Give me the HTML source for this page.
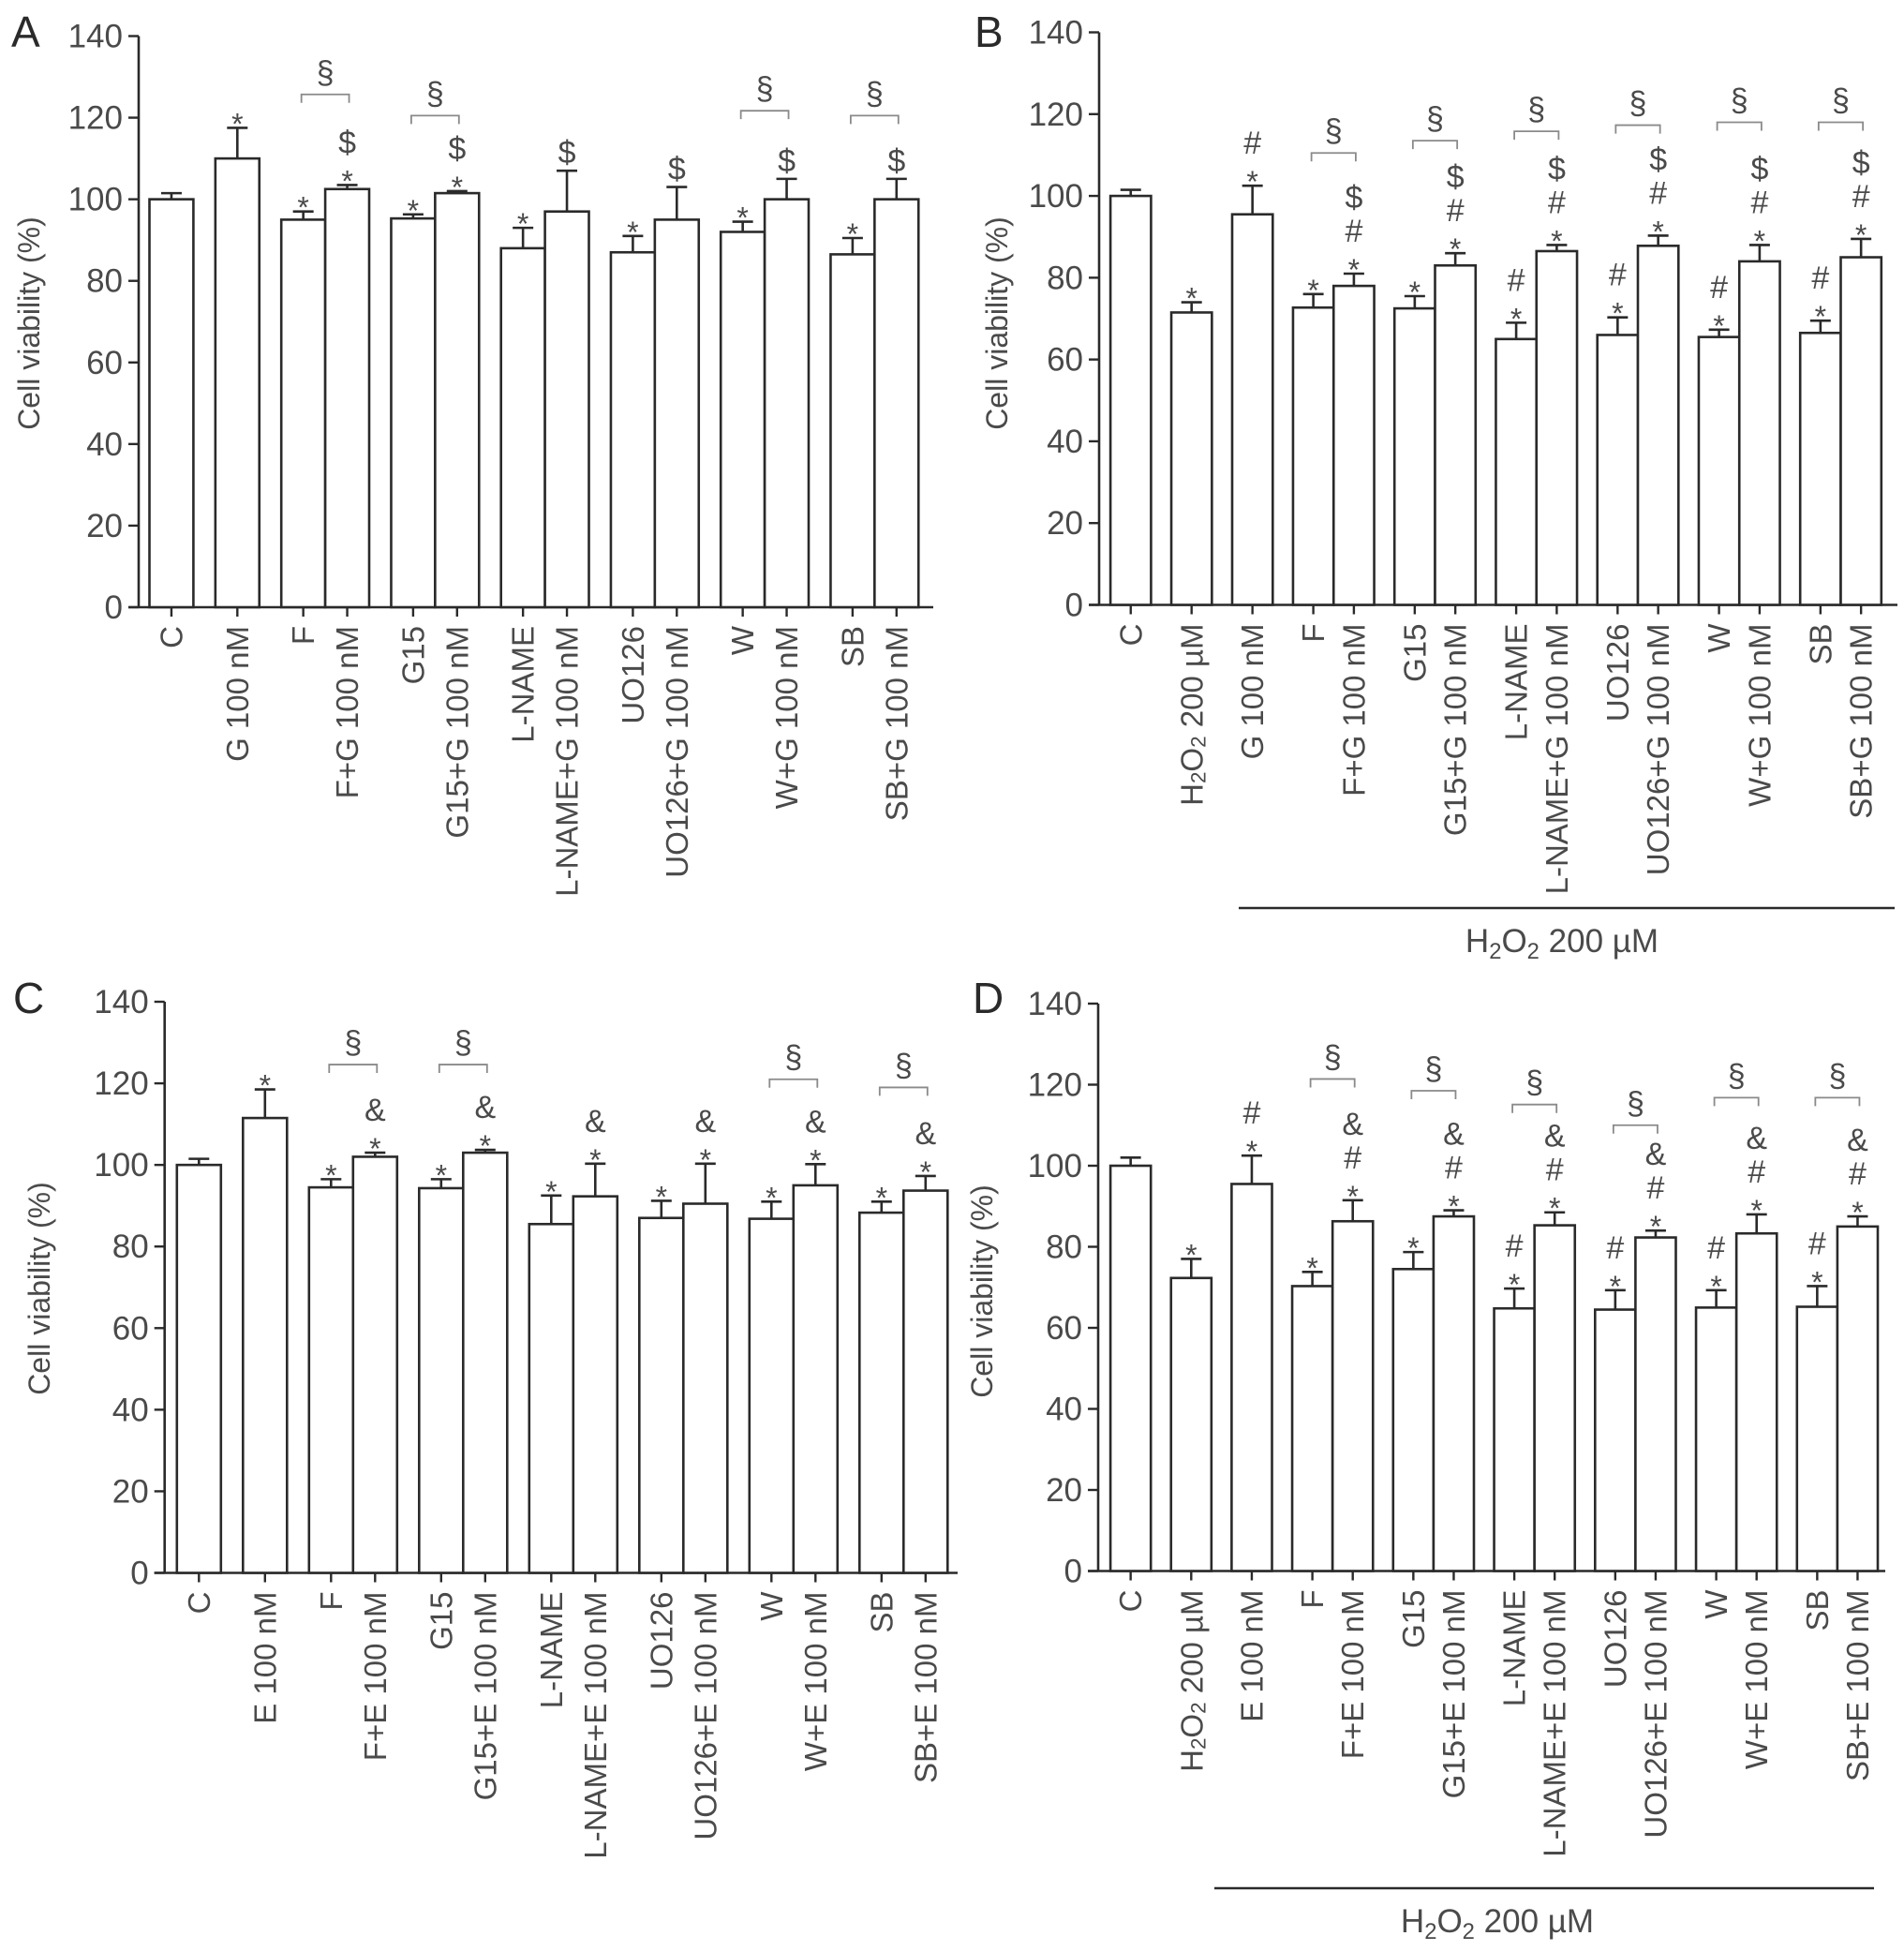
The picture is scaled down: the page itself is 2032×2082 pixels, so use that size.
<!DOCTYPE html>
<html><head><meta charset="utf-8"><style>
html,body{margin:0;padding:0;background:#fff;}
svg{display:block;font-family:"Liberation Sans",Arial,sans-serif;}
</style></head><body>
<svg id="fig" width="2032" height="2082" viewBox="0 0 2032 2082" xmlns="http://www.w3.org/2000/svg"></svg>
<script>
// ---------- DATA ----------
const catsA = ["C","G 100 nM","F","F+G 100 nM","G15","G15+G 100 nM","L-NAME","L-NAME+G 100 nM","UO126","UO126+G 100 nM","W","W+G 100 nM","SB","SB+G 100 nM"];
const valsA = [100,110,95,102.5,95.3,101.5,88,97,87,95,92,100,86.5,100];
const errA  = [101.5,117.5,97,103.5,96.3,102,93,107,91,103,94.5,105,90.5,105];
const annA  = ["","*","*","*$","*","*$","*","$","*","$","*","$","*","$"];
const brkA  = [[2,125.7],[4,120.5],[10,121.7],[12,120.5]];

const catsB = ["C","H2O2 200 µM","G 100 nM","F","F+G 100 nM","G15","G15+G 100 nM","L-NAME","L-NAME+G 100 nM","UO126","UO126+G 100 nM","W","W+G 100 nM","SB","SB+G 100 nM"];
const valsB = [100,71.5,95.5,72.7,78,72.5,83,65,86.5,66,87.8,65.5,84,66.5,85];
const errB  = [101.5,74,102.5,76,81,75.5,86,69,88,70.3,90.3,67.3,88,69.5,89.5];
const annB  = ["","*","*#","*","*#$","*","*#$","*#","*#$","*#","*#$","*#","*#$","*#","*#$"];
const brkB  = [[3,110.5],[5,113.5],[7,115.8],[9,117.3],[11,118],[13,118]];

const catsC = ["C","E 100 nM","F","F+E 100 nM","G15","G15+E 100 nM","L-NAME","L-NAME+E 100 nM","UO126","UO126+E 100 nM","W","W+E 100 nM","SB","SB+E 100 nM"];
const valsC = [100,111.5,94.5,102,94.3,103,85.5,92.3,87,90.5,86.8,95,88.3,93.7];
const errC  = [101.5,118.5,96.5,103,96.5,103.7,92.5,100.3,91.2,100.3,91,100.2,91,97.3];
const annC  = ["","*","*","*&","*","*&","*","*&","*","*&","*","*&","*","*&"];
const brkC  = [[2,124.6],[4,124.6],[10,121],[12,119]];

const catsD = ["C","H2O2 200 µM","E 100 nM","F","F+E 100 nM","G15","G15+E 100 nM","L-NAME","L-NAME+E 100 nM","UO126","UO126+E 100 nM","W","W+E 100 nM","SB","SB+E 100 nM"];
const valsD = [100,72.3,95.5,70.3,86.3,74.5,87.5,64.8,85.3,64.5,82.3,65,83.3,65.2,85];
const errD  = [102,77,102.5,73.8,91.5,78.7,89,69.7,88.5,69.3,84,69.3,88,70.3,87.5];
const annD  = ["","*","*#","*","*#&","*","*#&","*#","*#&","*#","*#&","*#","*#&","*#","*#&"];
const brkD  = [[3,121.4],[5,118.5],[7,115.1],[9,110],[11,116.8],[13,116.8]];

const yTicks = [0,20,40,60,80,100,120,140];

// ---------- DRAW ----------
const NS="http://www.w3.org/2000/svg";
const svg=document.getElementById('fig');
function mk(tag,attrs,parent){const e=document.createElementNS(NS,tag);for(const k in attrs)e.setAttribute(k,attrs[k]);(parent||svg).appendChild(e);return e;}
const INK="#2a2a2a", TXT="#4a4a4a";
const FS=35, LFS=33;

function slotPositions(n){
  const pos=[]; let p=0;
  const singles = n===14?2:3;
  for(let i=0;i<n;i++){
    if(i<singles){pos.push(p);p+=1.5;}
    else{const k=(i-singles)%2; pos.push(p); p+= k===0?1:1.5;}
  }
  return pos;
}

function h2o2(t,fs){
  const a=mk('tspan',{},t);a.textContent='H';
  const b=mk('tspan',{'font-size':fs*0.68,dy:7},t);b.textContent='2';
  const d=mk('tspan',{dy:-7},t);d.textContent='O';
  const e=mk('tspan',{'font-size':fs*0.68,dy:7},t);e.textContent='2';
  const f=mk('tspan',{dy:-7},t);f.textContent=' 200 µM';
}

function panel(cfg){
  const g=mk('g',{});
  
  
  const y=v=>cfg.y0-(v/140)*(cfg.y0-cfg.y140);
  const pos=slotPositions(cfg.cats.length);
  const xL=i=>cfg.left+pos[i]*cfg.u;
  const xc=i=>xL(i)+cfg.u/2;
  const L=mk('text',{x:cfg.lx,y:cfg.ly,'font-size':46,fill:INK},g);L.textContent=cfg.letter;
  
  
  const ax=mk('line',{x1:cfg.ax,y1:cfg.y140,x2:cfg.ax,y2:cfg.y0+1,stroke:INK,'stroke-width':2.6},g);
  
  
  const xa=mk('line',{x1:cfg.ax-11,y1:cfg.y0,x2:cfg.axEnd,y2:cfg.y0,stroke:INK,'stroke-width':2.6},g);
  
  
  yTicks.forEach(t=>{
    mk('line',{x1:cfg.ax-11,y1:y(t),x2:cfg.ax,y2:y(t),stroke:INK,'stroke-width':2.4},g);
    const tx=mk('text',{x:cfg.ax-17,y:y(t)+12,'font-size':FS,fill:TXT,'text-anchor':'end'},g);
    tx.textContent=t;
    
    
  });
  const yt=mk('text',{x:0,y:0,'font-size':32,fill:TXT,'text-anchor':'middle',transform:`translate(${cfg.tx},${cfg.ty}) rotate(-90)`},g);
  yt.textContent='Cell viability (%)';
  
  
  cfg.cats.forEach((c,i)=>{
    const top=y(cfg.vals[i]), et=y(cfg.err[i]);
    mk('line',{x1:xc(i),y1:top,x2:xc(i),y2:et,stroke:INK,'stroke-width':2.6},g);
    mk('line',{x1:xc(i)-11,y1:et,x2:xc(i)+11,y2:et,stroke:INK,'stroke-width':2.6},g);
    const r=mk('rect',{x:xL(i),y:top,width:cfg.u,height:cfg.y0-top,fill:'#fff',stroke:INK,'stroke-width':2.6},g);
    
    
    mk('line',{x1:xc(i),y1:cfg.y0,x2:xc(i),y2:cfg.y0+10,stroke:INK,'stroke-width':2.4},g);
    const lbl=mk('text',{x:0,y:0,'font-size':LFS,fill:TXT,'text-anchor':'end','dominant-baseline':'central',transform:`translate(${xc(i)},${cfg.y0+20}) rotate(-90)`},g);
    if(c.startsWith('H2O2')) h2o2(lbl,LFS); else lbl.textContent=c;
    
    
    const syms=cfg.ann[i].split('');
    let yy=et-8;
    syms.forEach((s,k)=>{
      const isStar=s==='*';
      const t=mk('text',{x:xc(i),y:yy+(isStar?15:0),'font-size':isStar?32:34,fill:TXT,'text-anchor':'middle'},g);
      t.textContent=s;
      
      
      yy-= isStar?26:36;
    });
  });
  cfg.brk.forEach(b=>{
    const i=b[0], by=y(b[1]);
    const x1=xc(i)-2, x2=xc(i+1)+2;
    const p=mk('path',{d:`M${x1},${by+9} V${by} H${x2} V${by+9}`,fill:'none',stroke:'#8a8a8a','stroke-width':1.8},g);
    
    
    const t=mk('text',{x:(x1+x2)/2,y:by-12,'font-size':34,fill:TXT,'text-anchor':'middle'},g);
    t.textContent='§';
    
    
  });
  if(cfg.under){
    const u=cfg.under;
    const ln=mk('line',{x1:u.x1,y1:u.y,x2:u.x2,y2:u.y,stroke:INK,'stroke-width':2.4},g);
    
    
    const t=mk('text',{x:u.tx,y:u.ty,'font-size':FS,fill:TXT,'text-anchor':'middle'},g);
    h2o2(t,FS);
    
    
  }
}

panel({letter:'A',lx:12,ly:50,cats:catsA,vals:valsA,err:errA,ann:annA,brk:brkA,
  ax:148,y0:648,y140:38.5,axEnd:996,left:159.5,u:46.9,tx:42,ty:345});
panel({letter:'B',lx:1040,ly:50,cats:catsB,vals:valsB,err:errB,ann:annB,brk:brkB,
  ax:1173,y0:645.5,y140:34.5,axEnd:2025,left:1185.1,u:43.3,tx:1075,ty:345,
  under:{x1:1322,x2:2022,y:969,tx:1667,ty:1016}});
panel({letter:'C',lx:14,ly:1081,cats:catsC,vals:valsC,err:errC,ann:annC,brk:brkC,
  ax:175.7,y0:1678.5,y140:1069,axEnd:1022,left:188.8,u:47,tx:53,ty:1375});
panel({letter:'D',lx:1038,ly:1081,cats:catsD,vals:valsD,err:errD,ann:annD,brk:brkD,
  ax:1172,y0:1676.5,y140:1071,axEnd:2012,left:1185.1,u:43.1,tx:1059,ty:1378,
  under:{x1:1296,x2:2000,y:2015,tx:1598,ty:2062}});
</script>
</body></html>
